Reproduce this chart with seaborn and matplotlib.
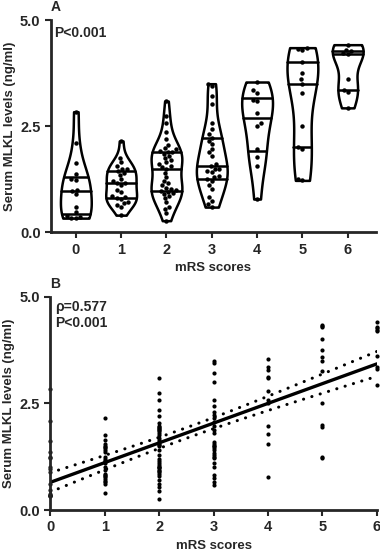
import numpy as np
import pandas as pd
import seaborn as sns
import matplotlib.pyplot as plt

# serum MLKL (ng/ml) per mRS score
mrs_scores = [0, 1, 2, 3, 4, 5, 6]
mlkl_0 = [2.84, 2.09, 1.62, 1.36, 1.25, 1.22, 1.0, 0.97, 0.9, 0.6, 0.48, 0.38, 0.35, 0.33, 0.33]
mlkl_1 = [2.15, 1.75, 1.65, 1.55, 1.5, 1.48, 1.45, 1.4, 1.35, 1.25, 1.2, 1.15, 1.15, 1.1, 1.0,
          0.95, 0.85, 0.82, 0.8, 0.78, 0.72, 0.68, 0.65, 0.6, 0.4]
mlkl_2 = [3.09, 2.75, 2.58, 2.35, 2.2, 2.05, 1.98, 1.95, 1.92, 1.9, 1.88, 1.85, 1.8, 1.75, 1.7,
          1.65, 1.6, 1.55, 1.53, 1.5, 1.4, 1.3, 1.2, 1.15, 1.1, 1.05, 1.02, 1.0, 0.98, 0.95,
          0.92, 0.9, 0.85, 0.8, 0.7, 0.6, 0.55, 0.45, 0.27]
mlkl_3 = [3.5, 3.44, 3.21, 3.01, 2.58, 2.43, 2.31, 2.23, 2.15, 2.07, 1.96, 1.88, 1.8, 1.6, 1.56,
          1.5, 1.49, 1.45, 1.41, 1.33, 1.3, 1.25, 1.21, 1.1, 1.02, 0.82, 0.74, 0.66, 0.59]
mlkl_4 = [3.54, 3.35, 3.29, 3.12, 3.09, 2.8, 2.57, 2.5, 1.97, 1.78, 1.55, 0.78]
mlkl_5 = [4.35, 4.32, 4.3, 4.0, 3.75, 3.6, 3.5, 3.27, 2.5, 2.0, 1.95, 1.25, 1.22]
mlkl_6 = [4.42, 4.3, 4.28, 4.22, 4.2, 3.62, 3.35, 3.3, 2.93]
groups = [mlkl_0, mlkl_1, mlkl_2, mlkl_3, mlkl_4, mlkl_5, mlkl_6]

rows = []
for score, vals in zip(mrs_scores, groups):
    for v in vals:
        rows.append({"mRS": score, "grp": str(score), "MLKL": v})
df = pd.DataFrame(rows)
order = [str(s) for s in mrs_scores]

sns.set_style("ticks")
plt.rcParams['font.family'] = ['Liberation Sans', 'DejaVu Sans']
plt.rcParams['font.weight'] = 'bold'
plt.rcParams['axes.labelweight'] = 'bold'

fig = plt.figure(figsize=(3.8, 5.58), dpi=100)
ax1 = fig.add_axes([0.134, 0.584, 0.855, 0.380])
ax2 = fig.add_axes([0.132, 0.086, 0.86, 0.382])

#A: violin + points
sns.violinplot(data=df, x="grp", y="MLKL", order=order, cut=0, inner="quart",
               density_norm="width", width=0.68, color="white", linecolor="black",
               linewidth=1.8, saturation=1, bw_adjust=0.9, ax=ax1)
for ln in ax1.lines:
    ln.set_linestyle("-")
    ln.set_linewidth(1.8)
sns.swarmplot(data=df, x="grp", y="MLKL", order=order, color="black", size=3.2, ax=ax1)
ax1.set_xlim(-0.55, 6.62)
ax1.set_ylim(0, 5)
ax1.set_yticks([0, 2.5, 5.0])
ax1.set_yticklabels(["0.0", "2.5", "5.0"])
ax1.set_xlabel("mRS scores", fontsize=9.5, labelpad=4)
ax1.set_ylabel("Serum MLKL levels (ng/ml)", fontsize=9.5, labelpad=3)
ax1.text(0.01, 0.97, "P<0.001", transform=ax1.transAxes, fontsize=10, fontweight="bold",
         va="top", ha="left")
ax1.text(0.0, 1.06, "A", transform=ax1.transAxes, fontsize=10, fontweight="bold",
         va="center", ha="left")

#B: scatter + linear fit with 95% CI
sns.scatterplot(data=df, x="mRS", y="MLKL", color="black", s=9, linewidth=0,
                clip_on=False, ax=ax2)
x = df["mRS"].to_numpy(float)
y = df["MLKL"].to_numpy(float)
slope, intercept = np.polyfit(x, y, 1)
n = len(x)
resid = y - (slope * x + intercept)
s = np.sqrt(np.sum(resid ** 2) / (n - 2))
sxx = np.sum((x - x.mean()) ** 2)
xs = np.linspace(0, 6, 60)
fit = slope * xs + intercept
half = 1.977 * s * np.sqrt(1 / n + (xs - x.mean()) ** 2 / sxx)
sns.lineplot(x=xs, y=fit, color="black", linewidth=2.4, ax=ax2)
sns.lineplot(x=xs, y=fit + half, color="black", linewidth=2.2, linestyle=(0, (0.05, 2.8)),
             dash_capstyle="round", ax=ax2)
sns.lineplot(x=xs, y=fit - half, color="black", linewidth=2.2, linestyle=(0, (0.05, 2.8)),
             dash_capstyle="round", ax=ax2)
ax2.set_xlim(0, 6)
ax2.set_ylim(0, 5)
ax2.set_xticks(mrs_scores)
ax2.set_yticks([0, 2.5, 5.0])
ax2.set_yticklabels(["0.0", "2.5", "5.0"])
ax2.set_xlabel("mRS scores", fontsize=9.5, labelpad=4)
ax2.set_ylabel("Serum MLKL levels (ng/ml)", fontsize=9.5, labelpad=3)
ax2.text(0.015, 0.985, "\u03c1=0.577\nP<0.001", transform=ax2.transAxes, fontsize=10,
         fontweight="bold", va="top", ha="left", linespacing=1.2)
ax2.text(0.0, 1.06, "B", transform=ax2.transAxes, fontsize=10, fontweight="bold",
         va="center", ha="left")

for ax in (ax1, ax2):
    sns.despine(ax=ax)
    ax.spines["left"].set_linewidth(2)
    ax.spines["bottom"].set_linewidth(2)
    ax.tick_params(width=1.5, length=4, labelsize=10.5)
    for lab in ax.get_xticklabels() + ax.get_yticklabels():
        lab.set_fontweight("bold")

fig.savefig("out.png", dpi=100)
